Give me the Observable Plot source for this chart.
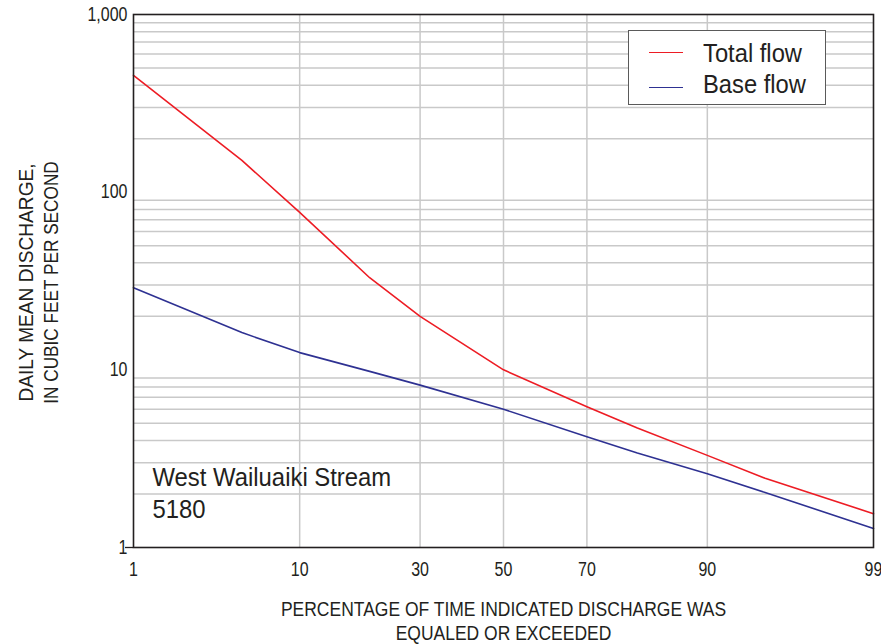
<!DOCTYPE html>
<html>
<head>
<meta charset="utf-8">
<script src="https://cdn.jsdelivr.net/npm/d3@7"></script>
<script src="https://cdn.jsdelivr.net/npm/@observablehq/plot@0.6"></script>
<style>
  html, body { margin: 0; padding: 0; background: #fff; }
  #wrap { position: relative; width: 881px; height: 644px; font-family: 'Liberation Sans', Arial, sans-serif; color: #231f20; }
  #legend { position: absolute; left: 628px; top: 30px; width: 196px; height: 73px; border: 1.5px solid #5a5a5a; background: #fff; }
  .lline { position: absolute; left: 20px; width: 34px; height: 0; border-top: 1.6px solid; }
  .ltext { position: absolute; left: 74px; font-size: 25px; line-height: 25px; white-space: nowrap; transform: scaleX(0.95); transform-origin: left center; }
</style>
</head>
<body>
<div id="wrap"></div>
<script>
// ---- data ----
const percents = [1, 5, 10, 20, 30, 50, 70, 80, 90, 95, 99];
const totalFlow = [455, 151, 77, 33, 20, 10, 6.2, 4.7, 3.3, 2.45, 1.55];
const baseFlow  = [29, 16.2, 12.5, 9.8, 8.2, 6.0, 4.2, 3.4, 2.6, 2.04, 1.28];
const xTickLabels = [1, 10, 30, 50, 70, 90, 99];
const yTickLabels = [1, 10, 100, 1000];
const yGridValues = [2,3,4,5,6,7,8,9, 20,30,40,50,60,70,80,90, 200,300,400,500,600,700,800,900];
const seriesNames = ["Total flow", "Base flow"];
const seriesColors = ["#ed1c24", "#2e3192"];
const annotation = "West Wailuaiki Stream\n5180";
const xTitle = "PERCENTAGE OF TIME INDICATED DISCHARGE WAS\nEQUALED OR EXCEEDED";
const yTitleLines = ["DAILY MEAN DISCHARGE,", "IN CUBIC FEET PER SECOND"];

// inverse standard normal CDF (Acklam) for the probability axis
function probit(p) {
  const a = [-39.69683028665376, 220.9460984245205, -275.9285104469687, 138.3577518672690, -30.66479806614716, 2.506628277459239];
  const b = [-54.47609879822406, 161.5858368580409, -155.6989798598866, 66.80131188771972, -13.28068155288572];
  const c = [-0.007784894002430293, -0.3223964580411365, -2.400758277161838, -2.549732539343734, 4.374664141464968, 2.938163982698783];
  const d = [0.007784695709041462, 0.3224671290700398, 2.445134137142996, 3.754408661907416];
  const pl = 0.02425, ph = 1 - pl;
  let q, r;
  if (p < pl) {
    q = Math.sqrt(-2 * Math.log(p));
    return (((((c[0]*q+c[1])*q+c[2])*q+c[3])*q+c[4])*q+c[5]) / ((((d[0]*q+d[1])*q+d[2])*q+d[3])*q+1);
  } else if (p <= ph) {
    q = p - 0.5; r = q*q;
    return (((((a[0]*r+a[1])*r+a[2])*r+a[3])*r+a[4])*r+a[5])*q / (((((b[0]*r+b[1])*r+b[2])*r+b[3])*r+b[4])*r+1);
  } else {
    q = Math.sqrt(-2 * Math.log(1 - p));
    return -(((((c[0]*q+c[1])*q+c[2])*q+c[3])*q+c[4])*q+c[5]) / ((((d[0]*q+d[1])*q+d[2])*q+d[3])*q+1);
  }
}

const rows = [];
percents.forEach((p, i) => {
  rows.push({series: seriesNames[0], z: probit(p / 100), q: totalFlow[i]});
  rows.push({series: seriesNames[1], z: probit(p / 100), q: baseFlow[i]});
});
const xTicks = xTickLabels.map(p => probit(p / 100));
const ink = "#231f20";

const chart = Plot.plot({
  width: 881,
  height: 644,
  marginLeft: 133,
  marginRight: 8,
  marginTop: 14,
  marginBottom: 97,
  style: { fontFamily: "'Liberation Sans', Arial, sans-serif", fontSize: "19.5px", color: ink, background: "#fff", overflow: "visible" },
  x: { type: "linear", domain: [probit(0.01), probit(0.99)] },
  y: { type: "log", domain: [1, 1000] },
  color: { domain: seriesNames, range: seriesColors },
  marks: [
    Plot.gridY(yGridValues, { stroke: "#c9c9c9", strokeOpacity: 1, strokeWidth: 1.5 }),
    Plot.gridX(xTicks.slice(1, -1), { stroke: "#c9c9c9", strokeOpacity: 1, strokeWidth: 1.5 }),
    Plot.axisX(xTicks, { tickSize: 0, tickPadding: 15, tickFormat: (d, i) => String(xTickLabels[i]), label: null, fontSize: 19.5 }),
    Plot.axisY(yTickLabels, { tickSize: 0, tickPadding: 6, tickFormat: d => d3.format(",")(d), label: null, fontSize: 19.5 }),
    Plot.axisY([1], { tickSize: 8, tickFormat: () => "", label: null, stroke: ink, strokeWidth: 1.3 }),
    Plot.line(rows, { x: "z", y: "q", z: "series", stroke: "series", strokeWidth: 1.6 }),
    Plot.frame({ stroke: ink, strokeWidth: 1.6 }),
    Plot.text([annotation], { frameAnchor: "bottom-left", dx: 19, dy: -30, lineAnchor: "bottom", textAnchor: "start", fontSize: 25, lineHeight: 1.28, fill: ink }),
    Plot.text([xTitle], { frameAnchor: "bottom", dy: 92, lineAnchor: "bottom", textAnchor: "middle", fontSize: 21, lineHeight: 1.143, fill: ink }),
    Plot.text([yTitleLines[0]], { frameAnchor: "left", dx: -101, dy: 1.5, rotate: -90, lineAnchor: "bottom", textAnchor: "middle", fontSize: 21, fill: ink }),
    Plot.text([yTitleLines[1]], { frameAnchor: "left", dx: -76, dy: 1.5, rotate: -90, lineAnchor: "bottom", textAnchor: "middle", fontSize: 21, fill: ink })
  ]
});

const wrap = document.getElementById("wrap");
wrap.appendChild(chart);

// condense glyphs horizontally around each text's own anchor (narrow typeface look)
function factorFor(txt) {
  if (txt.startsWith("West")) return 0.955;
  if (txt.startsWith("PERCENTAGE")) return 0.833;
  if (txt.startsWith("DAILY")) return 0.91;
  if (txt.startsWith("IN CUBIC")) return 0.82;
  return 0.82;
}
chart.querySelectorAll("text").forEach(t => {
  const txt = (t.textContent || "").trim();
  if (!txt) return;
  const s = factorFor(txt);
  const tr = t.getAttribute("transform") || "";
  const x = parseFloat(t.getAttribute("x") || "0") || 0;
  const y = parseFloat(t.getAttribute("y") || "0") || 0;
  t.setAttribute("transform", `${tr} translate(${x},${y}) scale(${s},1) translate(${-x},${-y})`);
});

const legend = document.createElement("div");
legend.id = "legend";
const lineTops = [21, 56];
const textTops = [10, 41];
seriesNames.forEach((name, i) => {
  const ln = document.createElement("div");
  ln.className = "lline";
  ln.style.top = lineTops[i] + "px";
  ln.style.borderTopColor = seriesColors[i];
  legend.appendChild(ln);
  const tx = document.createElement("div");
  tx.className = "ltext";
  tx.style.top = textTops[i] + "px";
  tx.textContent = name;
  legend.appendChild(tx);
});
wrap.appendChild(legend);
</script>
</body>
</html>
